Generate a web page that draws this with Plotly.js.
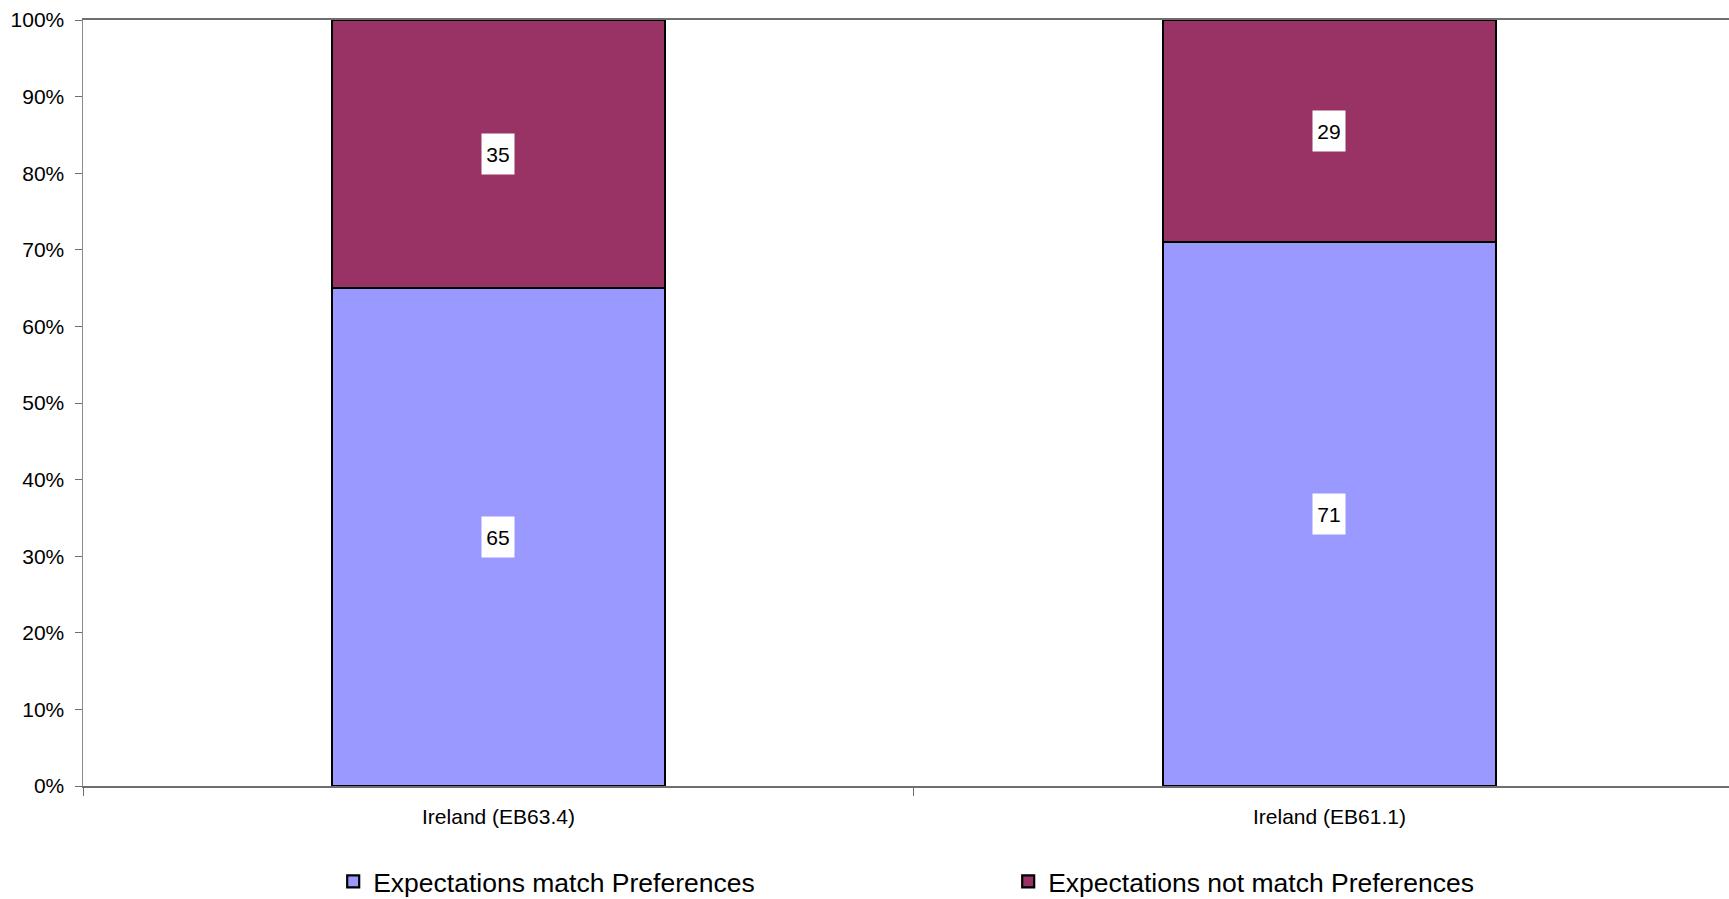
<!DOCTYPE html>
<html>
<head>
<meta charset="utf-8">
<script src="https://cdn.plot.ly/plotly-3.0.1.min.js"></script>
<style>html,body{margin:0;padding:0;background:#fff;}#chart{width:1729px;height:899px;}</style>
</head>
<body>
<div id="chart"></div>
<script>
const categories = ["Ireland (EB63.4)", "Ireland (EB61.1)"];
const seriesNames = ["Expectations match Preferences", "Expectations not match Preferences"];
const matchValues = [65, 71];
const notMatchValues = [35, 29];
const yTickValues = [0, 10, 20, 30, 40, 50, 60, 70, 80, 90, 100];
const yTickLabels = ["0%", "10%", "20%", "30%", "40%", "50%", "60%", "70%", "80%", "90%", "100%"];

const FONT = "Liberation Sans, Arial, sans-serif";
const colors = ["#9999FF", "#993366"];

const traces = [
  {type: "bar", name: seriesNames[0], x: categories, y: matchValues,
   marker: {color: colors[0], line: {color: "#000", width: 2.2}}, width: 0.4, hoverinfo: "skip"},
  {type: "bar", name: seriesNames[1], x: categories, y: notMatchValues,
   marker: {color: colors[1], line: {color: "#000", width: 2.2}}, width: 0.4, hoverinfo: "skip"}
];

const annotations = [];
categories.forEach((c, i) => {
  annotations.push({x: c, y: matchValues[i] / 2, xref: "x", yref: "y", text: String(matchValues[i]),
    showarrow: false, bgcolor: "#fff", width: 30, height: 38, font: {family: FONT, size: 21, color: "#000"}});
  annotations.push({x: c, y: matchValues[i] + notMatchValues[i] / 2, xref: "x", yref: "y", text: String(notMatchValues[i]),
    showarrow: false, bgcolor: "#fff", width: 30, height: 38, font: {family: FONT, size: 21, color: "#000"}});
});

const layout = {
  width: 1729, height: 899,
  margin: {l: 83, r: 0, t: 20, b: 113, autoexpand: false},
  paper_bgcolor: "#fff", plot_bgcolor: "#fff",
  barmode: "stack",
  font: {family: FONT, size: 21, color: "#000"},
  xaxis: {
    type: "category", range: [-0.5, 1.4808],
    showgrid: false, zeroline: false,
    showline: true, linecolor: "#6e6e6e", linewidth: 2, mirror: true,
    ticks: "outside", tickson: "boundaries", ticklen: 8, tickcolor: "#6e6e6e", tickwidth: 1,
    ticklabelstandoff: 11,
    tickfont: {family: FONT, size: 21, color: "#000"}
  },
  yaxis: {
    range: [0, 100], tickvals: yTickValues, ticktext: yTickLabels,
    showgrid: false, zeroline: false,
    showline: true, linecolor: "#8a8a8a", linewidth: 1.5,
    ticks: "outside", ticklen: 7, tickcolor: "#6e6e6e", tickwidth: 1,
    ticklabelstandoff: 6,
    tickfont: {family: FONT, size: 21, color: "#000"}
  },
  showlegend: true,
  legend: {
    orientation: "h", x: 0.152, xanchor: "left", y: -0.125, yanchor: "middle",
    font: {family: FONT, size: 26.5, color: "#000"},
    entrywidth: 630, entrywidthmode: "pixels",
    traceorder: "normal", bgcolor: "rgba(0,0,0,0)"
  },
  annotations: annotations
};

Plotly.newPlot("chart", traces, layout, {displayModeBar: false, staticPlot: true});
</script>
</body>
</html>
